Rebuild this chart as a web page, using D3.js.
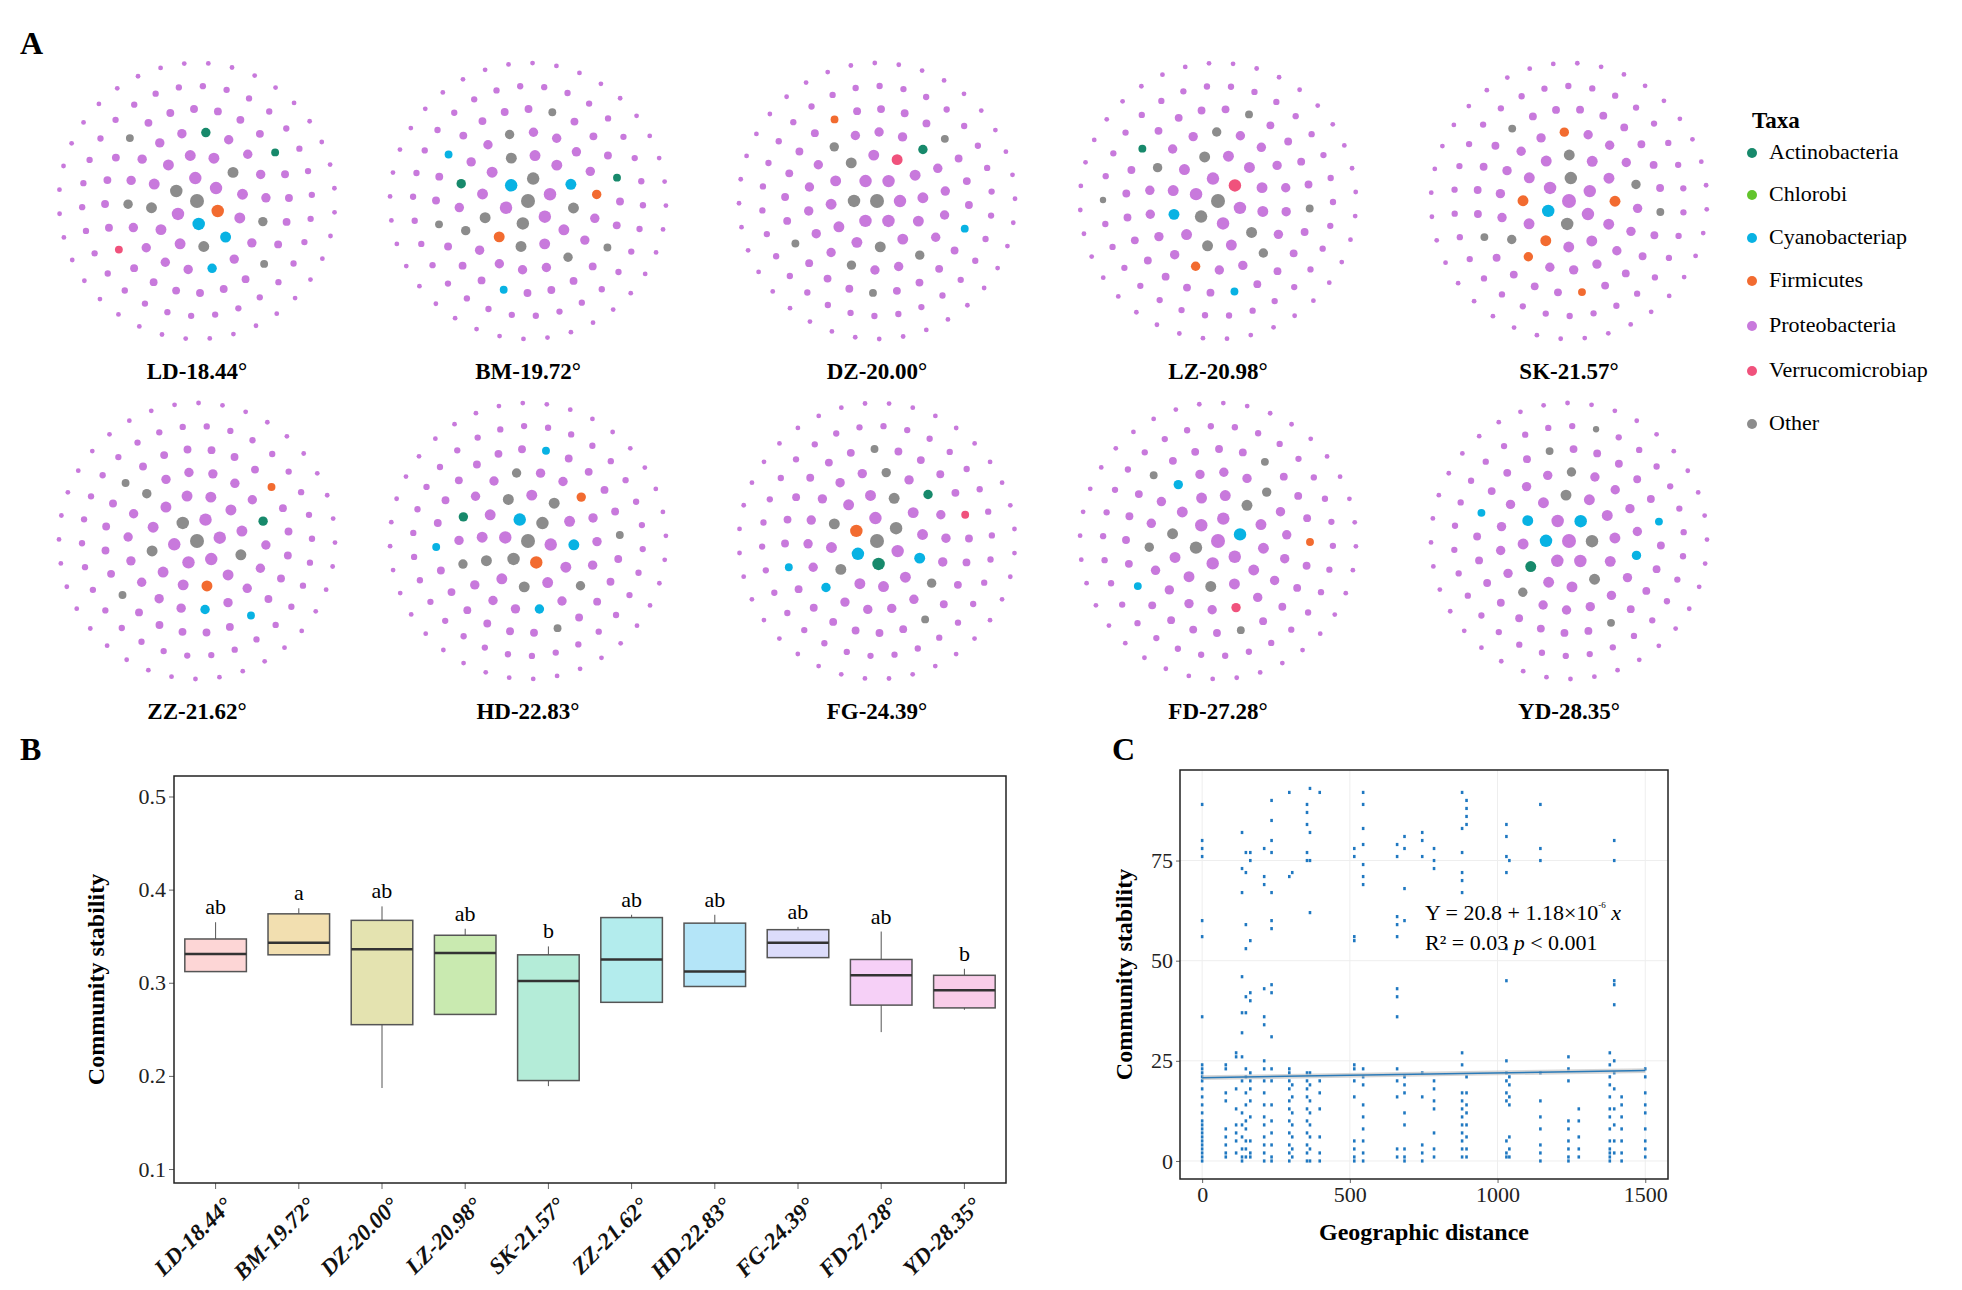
<!DOCTYPE html>
<html><head><meta charset="utf-8">
<script src="https://cdn.jsdelivr.net/npm/d3@7"></script>
<style>body{margin:0;background:#fff}text{font-family:"Liberation Serif",serif}</style>
</head><body><svg id="c" width="1962" height="1290"></svg>
<script>
// ---------------- DATA ----------------
const sites = ["LD-18.44°","BM-19.72°","DZ-20.00°","LZ-20.98°","SK-21.57°","ZZ-21.62°","HD-22.83°","FG-24.39°","FD-27.28°","YD-28.35°"];
const taxa = ["Actinobacteria","Chlorobi","Cyanobacteriap","Firmicutes","Proteobacteria","Verrucomicrobiap","Other"];
const taxaCodes = ["A","G","C","F","P","V","O"];
const taxaColors = ["#17896b","#62c42c","#08b2e3","#f26b30","#c879dc","#f0527c","#8c8c8c"];
// taxon of inner nodes (centre outwards), remaining nodes are Proteobacteria
const netTaxa = [
  "OFCPOPPCOPPOPPPPOPPCPPPPOPPPPAPPPPOPPPPPVPPPPOPPPPPPAPPPPOPPPP",
  "OPOPCOPPOFOPPOPPCOPPPPOPAPPOPPPPFPPOPPPPOPPCPPPPOPPPAPPOPPPPC",
  "OPPOPPPOPPPPOPVPPPPOPPPPPOPPPAPPPPOPPPOPPPPPFPPPPOPPPCPPPPOPPP",
  "OPOPPVPOPCPPOPPPPOPPPPPOPPOPPPPPPOPPFPPPPAPPPPOPPPPOPPPPCPPPPO",
  "POCPOPPFPFPPOPPFPPPOPPPPPFPPPOPPPPPPFPPPPOPPPPPPPPOPPPPFPPPPOP",
  "OPPOPPPPOPPPPPPOPFPPPPOPPPPPAPPPPCPPPPPOPPPPPPFPPPPPCPPPPPOPPP",
  "OOPCOPFOPPOPOPCPPOPPAPPOPPFPPPOPCPPPOPPPPPCPPPPOPPPPOPPPPPPCPP",
  "OCFPOPAPOPPOPPCPPPOPPPPOPAPPPOPPPPCPPPPPOPPPPVPPPPOPPPPPPCPPPP",
  "POPPCPPOPPPOPPPPOPPPCPPPOPPPPPVPPPPOPPPPPOPPPFPPPPOPPPPCPPPPOP",
  "PCPCOPPCPOPPPPOPPAPPPOPPPPCPPPPPOPPPPOPPPPPCPPPPOPPPPPPPPCPPPO"
];
const boxLetters = ["ab","a","ab","ab","b","ab","ab","ab","ab","b"];
const boxColors = ["#fdd6d6","#f2dfb0","#e4e3b0","#c9eab0","#b4ecd8","#b3eced","#b4e5f8","#dcdcfb","#f6d0f7","#f9cde9"];
const whiskLo = [0.312,0.330,0.187,0.266,0.189,0.279,0.296,0.327,0.247,0.271];
const q1 =      [0.312,0.330,0.255,0.266,0.195,0.279,0.296,0.327,0.276,0.273];
const median =  [0.331,0.343,0.336,0.332,0.302,0.325,0.312,0.343,0.308,0.292];
const q3 =      [0.347,0.374,0.367,0.351,0.330,0.370,0.364,0.357,0.325,0.308];
const whiskHi = [0.365,0.380,0.382,0.358,0.339,0.373,0.373,0.360,0.355,0.315];
const bTicks = [0.1,0.2,0.3,0.4,0.5];
const distCols = [0,80,115,135,148,163,210,235,295,305,355,365,398,515,545,660,685,745,785,880,895,1030,1040,1145,1240,1275,1380,1395,1420,1500];
const stabCols = [
  [0,1,2,3,4,5,6,7,8,9,10,12,14,16,18,20,21,22,23,24,36,56,60,76,78,80,89],
  [1,2,4,6,8,15,17,23,24],
  [2,5,7,9,13,18,27,26],
  [0,1,3,6,9,12,20,26,32,37,46,67,73,82],
  [1,3,5,8,10,14,17,21,23,37,41,53,59,72,77],
  [1,2,5,11,15,18,20,22,40,42,55,75,77],
  [0,2,4,6,9,11,14,17,20,23,25,34,36,43,69,71,78],
  [0,1,4,7,10,14,20,23,31,42,44,58,60,67,77,80,85,90],
  [0,2,4,7,10,13,15,18,20,22,23,71,92],
  [1,3,6,9,12,16,19,72],
  [0,2,4,7,10,13,16,18,20,22,75,77,84,87,89],
  [0,3,6,9,12,15,19,22,62,75,82,93],
  [0,2,6,13,17,20,92],
  [0,1,3,5,16,20,23,24,55,56,76,78],
  [0,2,5,8,11,14,19,21,23,69,71,74,79,83,89,92],
  [1,3,16,20,23,36,41,43,56,59,61,76,79],
  [0,1,3,9,12,17,19,21,60,68,78,81],
  [0,2,4,16,22,76,80,82],
  [1,3,7,13,15,18,20,73,75,78],
  [1,3,5,7,9,11,13,15,17,24,27,67,70,72,77,83,92],
  [1,3,6,9,12,14,17,21,84,86,88,90],
  [1,2,5,15,17,20,22,25,45,53,72,76,81,84],
  [1,3,6,14,16,19,21,75],
  [0,2,4,8,11,15,22,75,78,89],
  [0,1,3,5,8,10,20,23,26],
  [1,3,6,10,13],
  [0,1,2,3,5,8,11,13,16,19,21,24,27],
  [2,5,9,13,18,22,25,39,44,45,75,80],
  [0,2,5,8,11,14,16],
  [1,3,5,8,12,14,17,21,23]
];
const fitIntercept = 20.8, fitSlope = 0.00118;
const cXTicks = [0,500,1000,1500], cYTicks = [0,25,50,75];

// ---------------- DRAW ----------------
const svg = d3.select("#c");
const panelLetter = (x, y, t) => svg.append("text").attr("x", x).attr("y", y)
  .attr("font-size", 32).attr("font-weight", "bold").text(t);
panelLetter(20, 54, "A"); panelLetter(20, 760, "B"); panelLetter(1112, 760, "C");

// ----- A: networks -----
const netCx = [197,528,877,1218,1569], netCy = [201,541];
const color = d3.scaleOrdinal(taxaCodes, taxaColors);
sites.forEach((s, i) => {
  const cx = netCx[i % 5], cy = netCy[Math.floor(i / 5)];
  const g = svg.append("g").attr("transform", `translate(${cx},${cy})`);
  const nodes = [];
  let k = 0;
  for (let ring = 0; ring <= 6; ring++) {
    const n = ring === 0 ? 1 : ring * 6;
    for (let j = 0; j < n; j++) {
      const a = (j / n) * 2 * Math.PI + ring * 0.45 + i * 0.3;
      nodes.push({ring, a, t: netTaxa[i][k] || "P"});
      k++;
    }
  }
  const rad = d3.scaleLinear([0, 6], [0, 138]);
  const size = d3.scaleLinear([0, 6], [7, 2.4]);
  g.selectAll("circle").data(nodes).join("circle")
    .attr("cx", d => rad(d.ring) * Math.cos(d.a))
    .attr("cy", d => rad(d.ring) * Math.sin(d.a))
    .attr("r", d => size(d.ring))
    .attr("fill", d => color(d.t));
  svg.append("text").attr("x", cx).attr("y", cy + 178).attr("text-anchor", "middle")
    .attr("font-size", 23).attr("font-weight", "bold").text(s);
});
// legend
svg.append("text").attr("x", 1752).attr("y", 128).attr("font-size", 23).attr("font-weight", "bold").text("Taxa");
const legY = [153,195,238,281,326,371,424];
taxa.forEach((t, i) => {
  svg.append("circle").attr("cx", 1752).attr("cy", legY[i]).attr("r", 5).attr("fill", taxaColors[i]);
  svg.append("text").attr("x", 1769).attr("y", legY[i] + 6).attr("font-size", 22).text(t);
});

// ----- B: boxplot -----
const bL = 174, bR = 1006, bT = 776, bB = 1183;
const bx = d3.scaleBand(sites, [bL, bR]).paddingInner(0.26).paddingOuter(0.13);
const by = d3.scaleLinear([0.085, 0.522], [bB, bT]);
const gB = svg.append("g");
gB.append("g").attr("transform", `translate(${bL},0)`)
  .call(d3.axisLeft(by).tickValues(bTicks).tickFormat(d3.format(".1f")).tickSize(5))
  .call(a => { a.select(".domain").remove(); a.selectAll("text").attr("font-size", 22).attr("font-family", "Liberation Serif").attr("fill", "#222"); a.selectAll("line").attr("stroke", "#666"); });
gB.append("g").attr("transform", `translate(0,${bB})`)
  .call(d3.axisBottom(bx).tickSize(6))
  .call(a => { a.select(".domain").remove(); a.selectAll("line").attr("stroke", "#666");
    a.selectAll("text").attr("font-size", 23).attr("font-weight", "bold").attr("font-style", "italic")
     .attr("font-family", "Liberation Serif").attr("fill", "#111")
     .attr("text-anchor", "end").attr("transform", "translate(6,12) rotate(-45)").attr("dy", "0.35em"); });
gB.append("rect").attr("x", bL).attr("y", bT).attr("width", bR - bL).attr("height", bB - bT)
  .attr("fill", "none").attr("stroke", "#222").attr("stroke-width", 1.5);
sites.forEach((s, i) => {
  const x = bx(s), w = bx.bandwidth(), m = x + w / 2;
  gB.append("line").attr("x1", m).attr("x2", m).attr("y1", by(whiskLo[i])).attr("y2", by(whiskHi[i])).attr("stroke", "#555");
  gB.append("rect").attr("x", x).attr("width", w).attr("y", by(q3[i])).attr("height", by(q1[i]) - by(q3[i]))
    .attr("fill", boxColors[i]).attr("stroke", "#555").attr("stroke-width", 1.5);
  gB.append("line").attr("x1", x).attr("x2", x + w).attr("y1", by(median[i])).attr("y2", by(median[i])).attr("stroke", "#333").attr("stroke-width", 2.5);
  gB.append("text").attr("x", m).attr("y", by(whiskHi[i]) - 8).attr("text-anchor", "middle").attr("font-size", 22).text(boxLetters[i]);
});
gB.append("text").attr("transform", `translate(104,${(bT + bB) / 2}) rotate(-90)`).attr("text-anchor", "middle")
  .attr("font-size", 24).attr("font-weight", "bold").text("Community stability");

// ----- C: scatter -----
const cL = 1180, cR = 1668, cT = 770, cB = 1179;
const cx = d3.scaleLinear([-75, 1577], [cL, cR]);
const cy = d3.scaleLinear([-4.5, 97.6], [cB, cT]);
const gC = svg.append("g");
gC.selectAll(".gx").data(cXTicks).join("line").attr("x1", d => cx(d)).attr("x2", d => cx(d)).attr("y1", cT).attr("y2", cB).attr("stroke", "#eee");
gC.selectAll(".gy").data(cYTicks).join("line").attr("y1", d => cy(d)).attr("y2", d => cy(d)).attr("x1", cL).attr("x2", cR).attr("stroke", "#eee");
gC.append("g").attr("transform", `translate(${cL},0)`).call(d3.axisLeft(cy).tickValues(cYTicks).tickSize(4))
  .call(a => { a.select(".domain").remove(); a.selectAll("text").attr("font-size", 22).attr("font-family", "Liberation Serif").attr("fill", "#222"); a.selectAll("line").attr("stroke", "#666"); });
gC.append("g").attr("transform", `translate(0,${cB})`).call(d3.axisBottom(cx).tickValues(cXTicks).tickFormat(d3.format("d")).tickSize(4))
  .call(a => { a.select(".domain").remove(); a.selectAll("text").attr("font-size", 22).attr("font-family", "Liberation Serif").attr("fill", "#222"); a.selectAll("line").attr("stroke", "#666"); });
const pts = distCols.flatMap((d, i) => stabCols[i].map(v => [d, v]));
gC.selectAll(".pt").data(pts).join("rect").attr("x", d => cx(d[0]) - 1.3).attr("y", d => cy(d[1]) - 1.6)
  .attr("width", 2.6).attr("height", 3.2).attr("fill", "#1f78c1");
gC.append("path").attr("d", d3.area().x(d => cx(d)).y0(d => cy(fitIntercept + fitSlope * d - 0.6)).y1(d => cy(fitIntercept + fitSlope * d + 0.6))([0, 1500]))
  .attr("fill", "#bbb").attr("opacity", 0.6);
gC.append("line").attr("x1", cx(0)).attr("x2", cx(1500)).attr("y1", cy(fitIntercept)).attr("y2", cy(fitIntercept + fitSlope * 1500))
  .attr("stroke", "#2a7ab8").attr("stroke-width", 1.5);
gC.append("rect").attr("x", cL).attr("y", cT).attr("width", cR - cL).attr("height", cB - cT)
  .attr("fill", "none").attr("stroke", "#222").attr("stroke-width", 1.5);
const eq = gC.append("text").attr("x", 1425).attr("y", 920).attr("font-size", 22);
eq.append("tspan").text("Y = 20.8 + 1.18×10");
eq.append("tspan").attr("dy", -12).attr("font-size", 9).text("-6");
eq.append("tspan").attr("dy", 12).attr("font-style", "italic").text(" x");
const r2 = gC.append("text").attr("x", 1425).attr("y", 950).attr("font-size", 22);
r2.append("tspan").text("R² = 0.03  ");
r2.append("tspan").attr("font-style", "italic").text("p");
r2.append("tspan").text(" < 0.001");
gC.append("text").attr("x", (cL + cR) / 2).attr("y", 1240).attr("text-anchor", "middle").attr("font-size", 24).attr("font-weight", "bold").text("Geographic distance");
gC.append("text").attr("transform", `translate(1132,${(cT + cB) / 2}) rotate(-90)`).attr("text-anchor", "middle")
  .attr("font-size", 24).attr("font-weight", "bold").text("Community stability");
</script></body></html>
